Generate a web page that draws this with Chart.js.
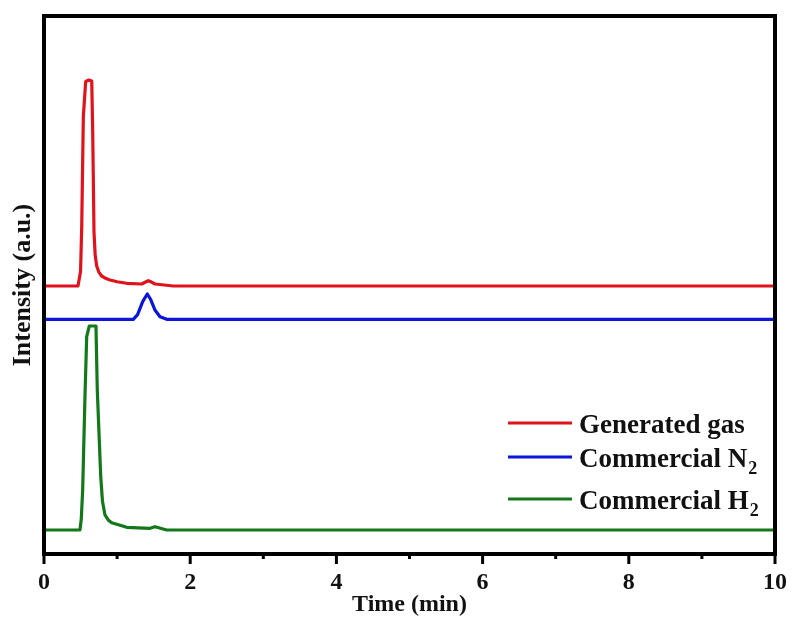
<!DOCTYPE html>
<html>
<head>
<meta charset="utf-8">
<script src="https://cdn.jsdelivr.net/npm/chart.js@4.4.1/dist/chart.umd.min.js"></script>
<style>
  html, body { margin: 0; padding: 0; background: #fff; }
  #wrap { width: 794px; height: 621px; }
</style>
</head>
<body>
<div id="wrap"><canvas id="c" width="794" height="621"></canvas></div>
<script>
// Chromatogram traces (time in min, intensity in arbitrary offset units)
const timeGenerated = [0, 0.465, 0.500, 0.516, 0.538, 0.570, 0.611, 0.653, 0.666, 0.684, 0.700, 0.721, 0.750, 0.789, 0.850, 0.903, 1.000, 1.131, 1.337, 1.390, 1.427, 1.470, 1.518, 1.769, 10];
const generatedGas  = [49.81, 49.81, 52.5, 60.84, 81.28, 87.79, 88.10, 87.92, 78.81, 59.85, 55.6, 53.53, 52.4, 51.67, 51.2, 50.93, 50.6, 50.32, 50.19, 50.55, 50.80, 50.55, 50.19, 49.81, 49.81];

const timeN2 = [0, 1.222, 1.28, 1.35, 1.413, 1.46, 1.52, 1.587, 1.679, 10];
const commercialN2 = [43.62, 43.62, 44.5, 46.9, 48.33, 47.3, 45.3, 44.1, 43.62, 43.62];

const timeH2 = [0, 0.492, 0.510, 0.529, 0.561, 0.584, 0.620, 0.711, 0.729, 0.776, 0.800, 0.834, 0.880, 0.926, 1.131, 1.450, 1.518, 1.679, 10];
const commercialH2 = [4.46, 4.46, 6.5, 11.90, 29.55, 40.39, 42.38, 42.38, 30.48, 14.37, 9.8, 7.25, 6.3, 5.82, 4.96, 4.78, 5.07, 4.46, 4.46];

// Legend text (base + subscript) and colours
const legendText = ['Generated gas', 'Commercial N', 'Commercial H'];
const legendSub  = ['', '2', '2'];
const seriesColors = ['#e0121c', '#0b16d8', '#13781a'];

// x-axis ticks
const xTicks = [0, 1, 2, 3, 4, 5, 6, 7, 8, 9, 10];

const SERIF = '"Liberation Serif", "Times New Roman", serif';

function pts(t, v) { return t.map((x, i) => ({ x: x, y: v[i] })); }

const framePlugin = {
  id: 'frameAndLegend',
  afterDraw(chart) {
    const ctx = chart.ctx;
    const a = chart.chartArea;
    const xs = chart.scales.x;
    ctx.save();
    // frame
    ctx.strokeStyle = '#000';
    ctx.lineWidth = 4;
    ctx.strokeRect(a.left, a.top, a.right - a.left, a.bottom - a.top);
    // outward ticks on the time axis: long at even minutes, short at odd
    ctx.lineWidth = 3;
    xTicks.forEach(v => {
      const px = xs.getPixelForValue(v);
      const len = (v % 2 === 0) ? 10 : 5;
      ctx.beginPath();
      ctx.moveTo(px, a.bottom);
      ctx.lineTo(px, a.bottom + len);
      ctx.stroke();
    });
    // legend
    const lx0 = a.left + 464, lx1 = a.left + 528, tx = a.left + 535;
    const rows = [a.top + 407, a.top + 441, a.top + 483];
    legendText.forEach((txt, i) => {
      const y = rows[i];
      ctx.strokeStyle = seriesColors[i];
      ctx.lineWidth = 3;
      ctx.beginPath();
      ctx.moveTo(lx0, y);
      ctx.lineTo(lx1, y);
      ctx.stroke();
      ctx.fillStyle = '#111';
      ctx.font = 'bold 27px ' + SERIF;
      ctx.textBaseline = 'alphabetic';
      ctx.textAlign = 'left';
      ctx.fillText(txt, tx, y + 10);
      if (legendSub[i]) {
        const w = ctx.measureText(txt).width;
        ctx.font = 'bold 18px ' + SERIF;
        ctx.fillText(legendSub[i], tx + w + 1, y + 17);
      }
    });
    ctx.restore();
  }
};

new Chart(document.getElementById('c'), {
  type: 'line',
  data: {
    datasets: [
      { label: 'Generated gas', data: pts(timeGenerated, generatedGas), borderColor: seriesColors[0] },
      { label: 'Commercial N2', data: pts(timeN2, commercialN2), borderColor: seriesColors[1] },
      { label: 'Commercial H2', data: pts(timeH2, commercialH2), borderColor: seriesColors[2] }
    ]
  },
  options: {
    responsive: false,
    animation: false,
    devicePixelRatio: 1,
    layout: { padding: { top: 16, right: 19, left: 0, bottom: 0 } },
    elements: {
      line: { borderWidth: 3.2, tension: 0, borderJoinStyle: 'round', borderCapStyle: 'round' },
      point: { radius: 0 }
    },
    plugins: { legend: { display: false }, tooltip: { enabled: false } },
    scales: {
      x: {
        type: 'linear',
        min: 0, max: 10,
        afterBuildTicks(s) { s.ticks = xTicks.map(v => ({ value: v })); },
        afterFit(s) { s.height = 67; s.paddingLeft = 0; s.paddingRight = 0; },
        grid: { display: false },
        border: { display: false },
        ticks: {
          color: '#111',
          font: { family: SERIF, size: 24, weight: 'bold' },
          padding: 6,
          maxRotation: 0,
          autoSkip: false,
          callback: v => (v % 2 === 0 ? String(v) : '')
        },
        title: {
          display: true,
          text: 'Time (min)',
          color: '#111',
          font: { family: SERIF, size: 24, weight: 'bold' },
          padding: { top: 0, bottom: 2 }
        }
      },
      y: {
        min: 0, max: 100,
        afterFit(s) { s.width = 44; },
        grid: { display: false },
        border: { display: false },
        ticks: { display: false },
        title: {
          display: true,
          text: 'Intensity (a.u.)',
          color: '#111',
          font: { family: SERIF, size: 26, weight: 'bold' },
          padding: { top: 8, bottom: 0 }
        }
      }
    }
  },
  plugins: [framePlugin]
});
</script>
</body>
</html>
